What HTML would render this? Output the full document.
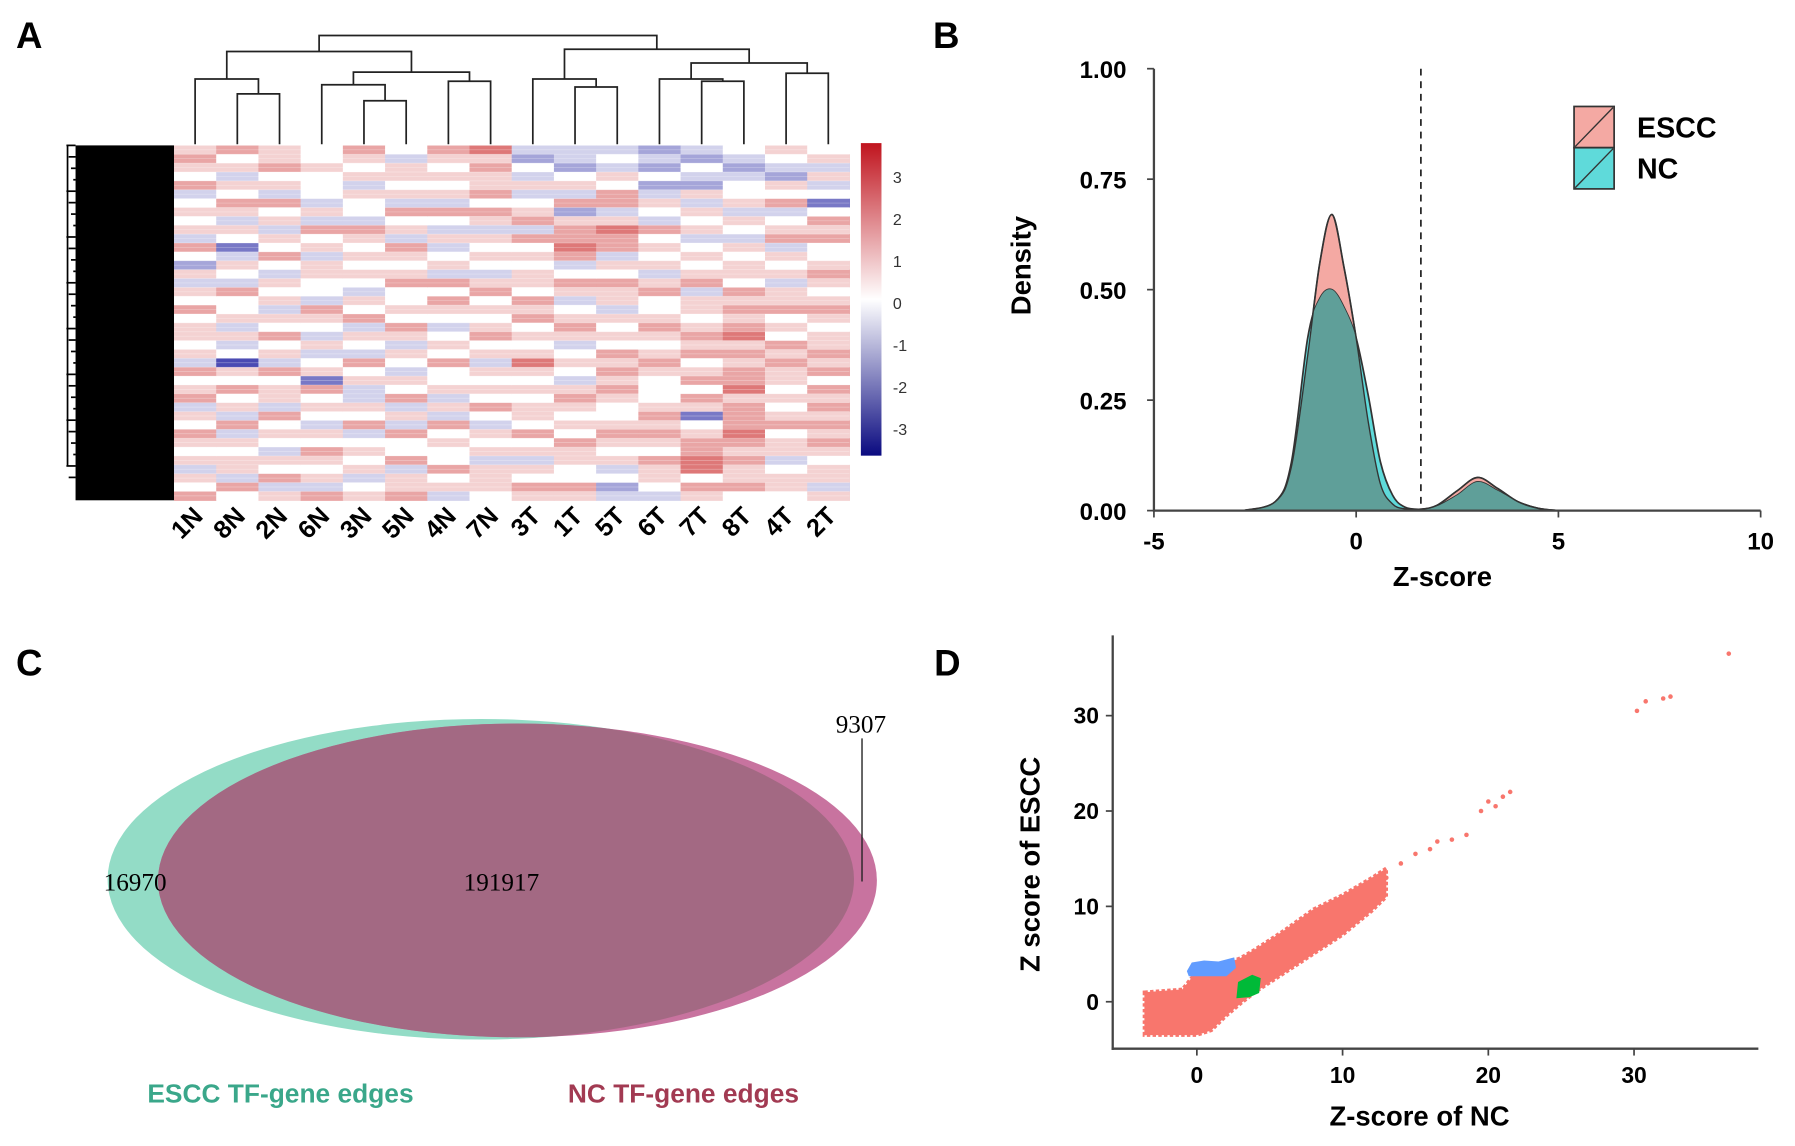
<!DOCTYPE html>
<html><head><meta charset="utf-8"><style>
html,body{margin:0;padding:0;background:#fff}
svg{display:block}
text{font-family:"Liberation Sans",sans-serif}
text.serif{font-family:"Liberation Serif",serif}
</style></head><body>
<svg id="fig" width="1795" height="1146" viewBox="0 0 1568 1001" preserveAspectRatio="none" xmlns="http://www.w3.org/2000/svg">
<g id="pA"></g>
<g id="pB"></g>
<g id="pC"></g>
<g id="pD"></g>
</svg>
<script>
// ---------- Panel A data ----------
const sampleLabels=["1N","8N","2N","6N","3N","5N","4N","7N","3T","1T","5T","6T","7T","8T","4T","2T"];
const heatRows=[ // per column, 40 rows, digits 0..8 (4 = 0)
"5654634545364253546455453645635465453546",
"6453546535413543644535340546453635455364",
"5564536453546435453546453645536454354635",
"4454443536453554436543534516454354654536",
"6545354436545454354635436453354634545345",
"4355453645365456445465354354635364463556",
"6545453643534536465434546445353645446453",
"7565564653545435645456453545464354535554",
"3243534563645455465645457545455464535465",
"3324536256676346534565345435654546554465",
"3435466357663546553545465656544565453423",
"2324235436454535644565456544456565465543",
"3243253545345456355456564564651456677465",
"4323445354354554656567565667566676565564",
"5432546345635453556454656554545645534554",
"4535341465644565456545565646565656545535"];
// dendrogram merges: [left, right, height(y px)]
const dendro=[[1,2,82],[4,5,88],[6,7,71],[0,"n0",69],[3,"n1",74],["n4","n2",63],["n3","n5",45],
[9,10,76],[8,"n7",69],[12,13,71],[11,"n9",69],[14,15,64],["n10","n11",55],["n8","n12",43],["n6","n13",31]];
const cbTicks=[3,2,1,0,-1,-2,-3];

// ---------- Panel B data ----------
const densZ=[-2.8,-2,-1.6,-1.2,-0.9,-0.6,-0.3,0,0.3,0.6,0.9,1.2,1.6,2,2.5,3,3.5,4,4.5,5];
const densESCC=[0,0.02,0.1,0.35,0.56,0.67,0.55,0.39,0.2,0.06,0.015,0.004,0.003,0.012,0.045,0.075,0.05,0.02,0.005,0];
const densNC=[0,0.02,0.11,0.39,0.48,0.5,0.46,0.39,0.26,0.11,0.035,0.008,0.003,0.01,0.035,0.065,0.045,0.02,0.005,0];
const bXTicks=[-5,0,5,10];
const bYTicks=[0,0.25,0.5,0.75,1.0];
const cutoff=1.6;

// ---------- Panel D data ----------
const bandX=[-3.6,-1,0,1,2,3,4,5,6,8,10,12,13];
const bandLo=[-3.5,-3.5,-3.5,-3,-1.5,-0.2,1,2,3,5,7,9.5,11];
const bandHi=[1,1.3,3.2,3.6,4,4.6,5.5,6.5,7.5,9.7,11.2,13,14];
const outX=[13,14,15,16,16.5,17.5,18.5,19.5,20,20.5,21,21.5,30.2,30.8,32,32.5,36.5];
const outY=[13,14.5,15.5,16,16.8,17,17.5,20,21,20.5,21.5,22,30.5,31.5,31.8,32,36.5];
const blueX=[-0.6,-0.3,0.5,1.5,2.5,2.6,2,0.5,-0.5];
const blueY=[3.2,4.0,4.2,4.1,4.5,3.6,2.8,2.8,2.8];
const greenX=[2.8,3.6,4.2,4.3,3.8,2.9];
const greenY=[0.5,0.6,1.0,2.4,2.7,2.0];
const dXTicks=[0,10,20,30];
const dYTicks=[0,10,20,30];

const NS="http://www.w3.org/2000/svg";
function mk(parent,tag,attrs,txt){const e=document.createElementNS(NS,tag);for(const k in attrs)e.setAttribute(k,attrs[k]);if(txt!==undefined)e.textContent=txt;parent.appendChild(e);return e;}

// ===== Panel A =====
(function(){
const g=document.getElementById('pA');
let t=mk(g,'text',{x:14,y:42,'font-size':32,'font-weight':'bold'},'A');


const hx0=152,hx1=742,hy0=127,hy1=437;
const cw=(hx1-hx0)/sampleLabels.length, nr=heatRows[0].length, rh=(hy1-hy0)/nr;
function col(v){const tt=Math.min(1,Math.abs(v)/3);
 const c=v>=0?[200,30,30]:[30,30,160];
 const r=Math.round(255+(c[0]-255)*tt),gg=Math.round(255+(c[1]-255)*tt),b=Math.round(255+(c[2]-255)*tt);
 return `rgb(${r},${gg},${b})`;}
sampleLabels.forEach((lab,i)=>{
 for(let r=0;r<nr;r++){
  const v=(parseInt(heatRows[i][r])-4)*0.6;
  const c=mk(g,'rect',{x:hx0+i*cw,y:hy0+r*rh,width:cw+0.5,height:rh+0.5,fill:col(v)});
  
  
 }
 const cx=hx0+(i+0.5)*cw;
 const l=mk(g,'text',{x:cx+8,y:452,'font-size':22,'font-weight':'bold','text-anchor':'end',transform:`rotate(-45 ${cx+8} 452)`},lab);
 
 
});
// thin row separators to mimic dense rows
for(let y=hy0;y<hy1;y+=rh/2){mk(g,'line',{x1:hx0,y1:y,x2:hx1,y2:y,stroke:'rgba(255,255,255,0.35)','stroke-width':0.6});}
const blk=mk(g,'rect',{x:66,y:hy0,width:hx0-66,height:hy1-hy0,fill:'#000'});


for(let k=0;k<30;k++){mk(g,'line',{x1:58+(k%4)*2,y1:hy0+k*10,x2:66,y2:hy0+k*10,stroke:'#000','stroke-width':1.5});}
mk(g,'line',{x1:59,y1:hy0,x2:59,y2:hy1-30,stroke:'#000','stroke-width':1.5});
const nodes={};const pos=i=>typeof i==='number'?{x:hx0+(i+0.5)*cw,y:126}:nodes[i];
dendro.forEach((m,k)=>{const a=pos(m[0]),b=pos(m[1]),h=m[2];
 const p=mk(g,'path',{d:`M${a.x},${a.y}V${h}H${b.x}V${b.y}`,fill:'none',stroke:'#222','stroke-width':1.5});
 
 
 nodes['n'+k]={x:(a.x+b.x)/2,y:h};});
const defs=mk(g,'defs',{});const lg=mk(defs,'linearGradient',{id:'cbg',x1:0,y1:0,x2:0,y2:1});
[['0','#c0141e'],['0.5','#ffffff'],['1','#0a0a80']].forEach(s=>mk(lg,'stop',{offset:s[0],'stop-color':s[1]}));
const cb=mk(g,'rect',{x:752,y:125,width:18,height:273,fill:'url(#cbg)'});


const cy=v=>265-v*36.7;
cbTicks.forEach(v=>{const e=mk(g,'text',{x:780,y:cy(v)+5,'font-size':14,fill:'#333'},String(v));
 
 });
})();

// ===== Panel B =====
(function(){
const g=document.getElementById('pB');
let t=mk(g,'text',{x:815,y:42,'font-size':32,'font-weight':'bold'},'B');


const X=z=>1008+(z+5)*(1538-1008)/15, Y=d=>446-d*386;
function path(arr){
 const P=densZ.map((z,i)=>[X(z),Y(arr[i])]);
 let d=`M${P[0][0]},${Y(0)}L${P[0][0]},${P[0][1]}`;
 for(let i=0;i<P.length-1;i++){
  const p0=P[Math.max(0,i-1)],p1=P[i],p2=P[i+1],p3=P[Math.min(P.length-1,i+2)];
  const c1=[p1[0]+(p2[0]-p0[0])/6,p1[1]+(p2[1]-p0[1])/6],c2=[p2[0]-(p3[0]-p1[0])/6,p2[1]-(p3[1]-p1[1])/6];
  d+=`C${c1[0]},${Math.min(Y(0),c1[1])} ${c2[0]},${Math.min(Y(0),c2[1])} ${p2[0]},${p2[1]}`;
 }
 return d+`L${P[P.length-1][0]},${Y(0)}Z`;}
const defs=mk(g,'defs',{});const cp=mk(defs,'clipPath',{id:'escClip'});mk(cp,'path',{d:path(densESCC)});
const e1=mk(g,'path',{d:path(densESCC),fill:'#f4a9a3',stroke:'#333','stroke-width':1.5});


const e2=mk(g,'path',{d:path(densNC),fill:'#5fdada',stroke:'#333','stroke-width':1.5});


mk(g,'path',{d:path(densNC),fill:'#5f9f99','clip-path':'url(#escClip)'});
mk(g,'path',{d:path(densESCC),fill:'none',stroke:'#333','stroke-width':1.2});
const dl=mk(g,'line',{x1:X(cutoff),y1:60,x2:X(cutoff),y2:446,stroke:'#222','stroke-width':1.5,'stroke-dasharray':'6,5'});


mk(g,'line',{x1:1008,y1:60,x2:1008,y2:447,stroke:'#444','stroke-width':2});
mk(g,'line',{x1:1008,y1:446,x2:1538,y2:446,stroke:'#444','stroke-width':2});
bXTicks.forEach(v=>{mk(g,'line',{x1:X(v),y1:446,x2:X(v),y2:452,stroke:'#444','stroke-width':1.5});
 const e=mk(g,'text',{x:X(v),y:480,'font-size':21,'font-weight':'bold','text-anchor':'middle'},String(v));
 
 });
bYTicks.forEach(v=>{mk(g,'line',{x1:1002,y1:Y(v),x2:1008,y2:Y(v),stroke:'#444','stroke-width':1.5});
 const e=mk(g,'text',{x:984,y:Y(v)+8,'font-size':21,'font-weight':'bold','text-anchor':'end'},v.toFixed(2));
 
 });
let a=mk(g,'text',{x:1260,y:512,'font-size':24,'font-weight':'bold','text-anchor':'middle'},'Z-score');


a=mk(g,'text',{x:900,y:232,'font-size':24,'font-weight':'bold','text-anchor':'middle',transform:'rotate(-90 900 232)'},'Density');


[['ESCC','#f4a9a3',93],['NC','#5fdada',129]].forEach(L=>{
 const r=mk(g,'rect',{x:1375,y:L[2],width:35,height:36,fill:L[1],stroke:'#333','stroke-width':1.5});
 
 
 mk(g,'line',{x1:1376,y1:L[2]+35,x2:1409,y2:L[2]+1,stroke:'#333','stroke-width':1.2});
 const tx=mk(g,'text',{x:1430,y:L[2]+27,'font-size':25,'font-weight':'bold'},L[0]);
 
 });
})();

// ===== Panel C =====
(function(){
const g=document.getElementById('pC');
let t=mk(g,'text',{x:14,y:590,'font-size':32,'font-weight':'bold'},'C');


const defs=mk(g,'defs',{});const cp=mk(defs,'clipPath',{id:'escV'});mk(cp,'ellipse',{cx:420,cy:768,rx:326,ry:140});
let e=mk(g,'ellipse',{cx:420,cy:768,rx:326,ry:140,fill:'#93dcc6'});


e=mk(g,'ellipse',{cx:452,cy:769,rx:314,ry:137,fill:'#c8739f'});


e=mk(g,'ellipse',{cx:452,cy:769,rx:314,ry:137,fill:'#a36983','clip-path':'url(#escV)'});


[['16970',118,778],['191917',438,778],['9307',752,640]].forEach(L=>{
 const x=mk(g,'text',{x:L[1],y:L[2],'font-size':22,'class':'serif','text-anchor':'middle'},L[0]);
 
 });
mk(g,'line',{x1:753,y1:645,x2:753,y2:770,stroke:'#222','stroke-width':1.2});
let l=mk(g,'text',{x:245,y:963,'font-size':23,'font-weight':'bold','text-anchor':'middle',fill:'#3aa78a'},'ESCC TF-gene edges');


l=mk(g,'text',{x:597,y:963,'font-size':23,'font-weight':'bold','text-anchor':'middle',fill:'#a23a52'},'NC TF-gene edges');


})();

// ===== Panel D =====
(function(){
const g=document.getElementById('pD');
let t=mk(g,'text',{x:816,y:590,'font-size':32,'font-weight':'bold'},'D');


const X=v=>1045.5+v*12.73, Y=v=>875-v*8.33;
let d='M'+bandX.map((x,i)=>`${X(x)},${Y(bandHi[i])}`).join('L');
for(let i=bandX.length-1;i>=0;i--)d+=`L${X(bandX[i])},${Y(bandLo[i])}`;
let p=mk(g,'path',{d:d+'Z',fill:'#f8766d',stroke:'#f8766d','stroke-width':3,'stroke-dasharray':'3,2'});


outX.forEach((x,i)=>{const c=mk(g,'circle',{cx:X(x),cy:Y(outY[i]),r:2,fill:'#f8766d'});
 
 });
p=mk(g,'path',{d:'M'+blueX.map((x,i)=>`${X(x)},${Y(blueY[i])}`).join('L')+'Z',fill:'#619cff',stroke:'#619cff','stroke-width':2});


p=mk(g,'path',{d:'M'+greenX.map((x,i)=>`${X(x)},${Y(greenY[i])}`).join('L')+'Z',fill:'#00ba38',stroke:'#00ba38','stroke-width':2});


mk(g,'line',{x1:972,y1:555,x2:972,y2:917,stroke:'#444','stroke-width':2});
mk(g,'line',{x1:971,y1:916,x2:1536,y2:916,stroke:'#444','stroke-width':2});
dXTicks.forEach(v=>{mk(g,'line',{x1:X(v),y1:916,x2:X(v),y2:922,stroke:'#444','stroke-width':1.5});
 const e=mk(g,'text',{x:X(v),y:946,'font-size':20,'font-weight':'bold','text-anchor':'middle'},String(v));
 
 });
dYTicks.forEach(v=>{mk(g,'line',{x1:966,y1:Y(v),x2:972,y2:Y(v),stroke:'#444','stroke-width':1.5});
 const e=mk(g,'text',{x:960,y:Y(v)+7,'font-size':20,'font-weight':'bold','text-anchor':'end'},String(v));
 
 });
let a=mk(g,'text',{x:1240,y:983,'font-size':24,'font-weight':'bold','text-anchor':'middle'},'Z-score of NC');


a=mk(g,'text',{x:908,y:755,'font-size':24,'font-weight':'bold','text-anchor':'middle',transform:'rotate(-90 908 755)'},'Z score of ESCC');


})();
</script>
</body></html>
